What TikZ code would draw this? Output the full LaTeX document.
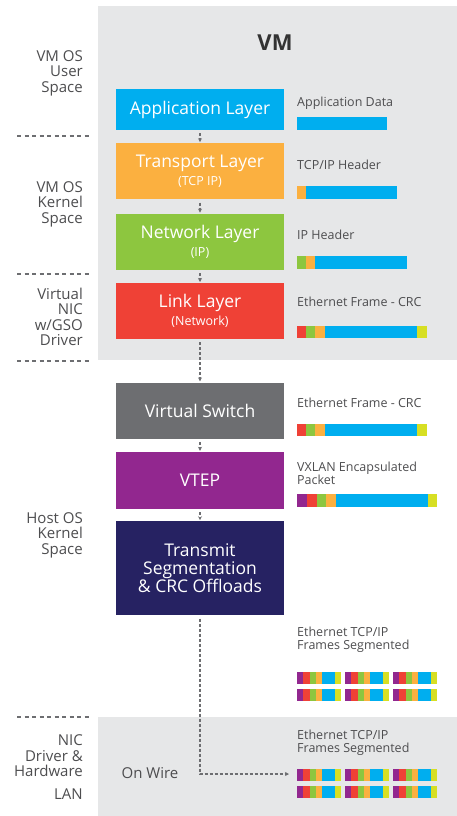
\documentclass[tikz,border=0pt]{standalone}
\usepackage{fontspec}
\setmainfont{Open Sans}
\usetikzlibrary{positioning,arrows.meta}
\definecolor{panel}{HTML}{E6E7E8}
\definecolor{txtgray}{HTML}{4D4D4F}
\definecolor{arrgray}{HTML}{6D6E71}
\definecolor{cblue}{HTML}{00AEEF}
\definecolor{corange}{HTML}{FBB040}
\definecolor{cgreen}{HTML}{8DC63F}
\definecolor{cred}{HTML}{EF4136}
\definecolor{cswitch}{HTML}{6D6E71}
\definecolor{cpurple}{HTML}{92278F}
\definecolor{cnavy}{HTML}{262262}
\definecolor{cyellow}{HTML}{D7DF23}

\begin{document}
\begin{tikzpicture}[x=1pt,y=-1pt,node distance=13pt,
    layer/.style={minimum width=168pt,inner sep=0pt,align=center,text=white,font=\fontsize{17.5}{19}\selectfont},
    side/.style={anchor=east,inner sep=0pt,align=right,text=txtgray,font=\fontsize{15}{15.5}\selectfont},
    info/.style={anchor=west,inner sep=0pt,align=left,text=txtgray,font=\fontsize{12.5}{13}\selectfont},
    flow/.style={dash pattern=on 3pt off 2pt,line width=1.2pt,draw=arrgray,-{Stealth[length=4pt,width=4pt]},shorten <=3pt,shorten >=1pt},
    divider/.style={dash pattern=on 4pt off 3.5pt,line width=1.2pt,draw=arrgray}]

    \useasboundingbox (0,0) rectangle (457,816);

    % gray panels
    \fill[panel] (98,6) rectangle (457,360);
    \fill[panel] (98,717) rectangle (457,816);
    \node[font=\fontsize{22}{24}\selectfont\bfseries,text=black!80] (vm) at (275,43) {VM};

    % left side labels
    \node[side] (user) at (83,73) {VM OS\\User\\Space};
    \node[side] (kern) at (83,204) {VM OS\\Kernel\\Space};
    \node[side] (vnic) at (83,317) {Virtual\\NIC\\w/GSO\\Driver};
    \node[side] (host) at (83,535) {Host OS\\Kernel\\Space};
    \node[side] (nic) at (83,756) {NIC\\Driver \&\\Hardware};
    \node[side] (lan) at (83,794) {LAN};
    \node[text=txtgray,font=\fontsize{15}{15.5}\selectfont] (onwire) at (150,773) {On Wire};

    \draw[divider] (17,136) -- (89,136);
    \draw[divider] (17,274) -- (89,274);
    \draw[divider] (17,361) -- (89,361);
    \draw[divider] (17,717) -- (89,717);

    % layer stack
    \node[layer, fill=cblue, minimum height=41pt] (app) at (200,109.5) {Application Layer};
    \node[layer, fill=corange, minimum height=56pt] (tcp) [below=of app] {Transport Layer\\[-1pt]{\fontsize{12.5}{13}\selectfont (TCP IP)}};
    \node[layer, fill=cgreen, minimum height=56pt] (ip) [below=14pt of tcp] {Network Layer\\[-1pt]{\fontsize{12.5}{13}\selectfont (IP)}};
    \node[layer, fill=cred, minimum height=56pt] (link) [below=of ip] {Link Layer\\[-1pt]{\fontsize{12.5}{13}\selectfont (Network)}};
    \node[layer, fill=cswitch, minimum height=56pt] (vsw) [below=43pt of link] {Virtual Switch};
    \node[layer, fill=cpurple, minimum height=57pt] (vtep) [below=of vsw] {VTEP};
    \node[layer, fill=cnavy, minimum height=94pt, font=\fontsize{17.5}{18}\selectfont] (txs) [below=12pt of vtep] {Transmit\\Segmentation\\\& CRC Offloads};

    \draw[flow] (app) -- (tcp);
    \draw[flow] (tcp) -- (ip);
    \draw[flow] (ip) -- (link);
    \draw[flow] (link) -- (vsw);
    \draw[flow] (vsw) -- (vtep);
    \draw[flow] (vtep) -- (txs);
    \coordinate (wire) at (290,774);
    \draw[flow] (txs.south) |- (wire);

    % packet labels
    \node[info] (d1) at (297,103) {Application Data};
    \node[info] (d2) at (297,165) {TCP/IP Header};
    \node[info] (d3) at (297,235) {IP Header};
    \node[info] (d4) at (297,302) {Ethernet Frame - CRC};
    \node[info] (d5) at (297,403) {Ethernet Frame - CRC};
    \node[info] (d6) at (297,473.5) {VXLAN Encapsulated\\Packet};
    \node[info] (d7) at (297,639.5) {Ethernet TCP/IP\\Frames Segmented};
    \node[info] (d8) at (297,743) {Ethernet TCP/IP\\Frames Segmented};

    % packet bars
    \fill[cblue] (297,117) rectangle (387,130);
    \foreach \c/\a/\b in {corange/297/306, cblue/306/397}
        \fill[\c] (\a,186) rectangle (\b,199);
    \foreach \c/\a/\b in {cgreen/297/306, corange/306/315, cblue/315/407}
        \fill[\c] (\a,256) rectangle (\b,269);
    \foreach \y in {326,424}
        \foreach \c/\a/\b in {cred/297/306, cgreen/306/315, corange/315/325, cblue/325/417, cyellow/417/427}
            \fill[\c] (\a,\y) rectangle (\b,\y+12);
    \foreach \c/\a/\b in {cpurple/297/307, cred/307/317, cgreen/317/326, corange/326/336, cblue/336/428, cyellow/428/437}
        \fill[\c] (\a,494) rectangle (\b,507);

    % segmented frames
    \foreach \y in {672,689,769,786}
        \foreach \dx in {0,48,96}
            \foreach \c/\a/\b in {cpurple/0/6, cred/6/12.7, cgreen/12.7/19, corange/19/25.3, cblue/25.3/38.3, cyellow/38.3/44}
                \fill[\c] (297+\dx+\a,\y) rectangle (297+\dx+\b,\y+12);

\end{tikzpicture}
\end{document}
